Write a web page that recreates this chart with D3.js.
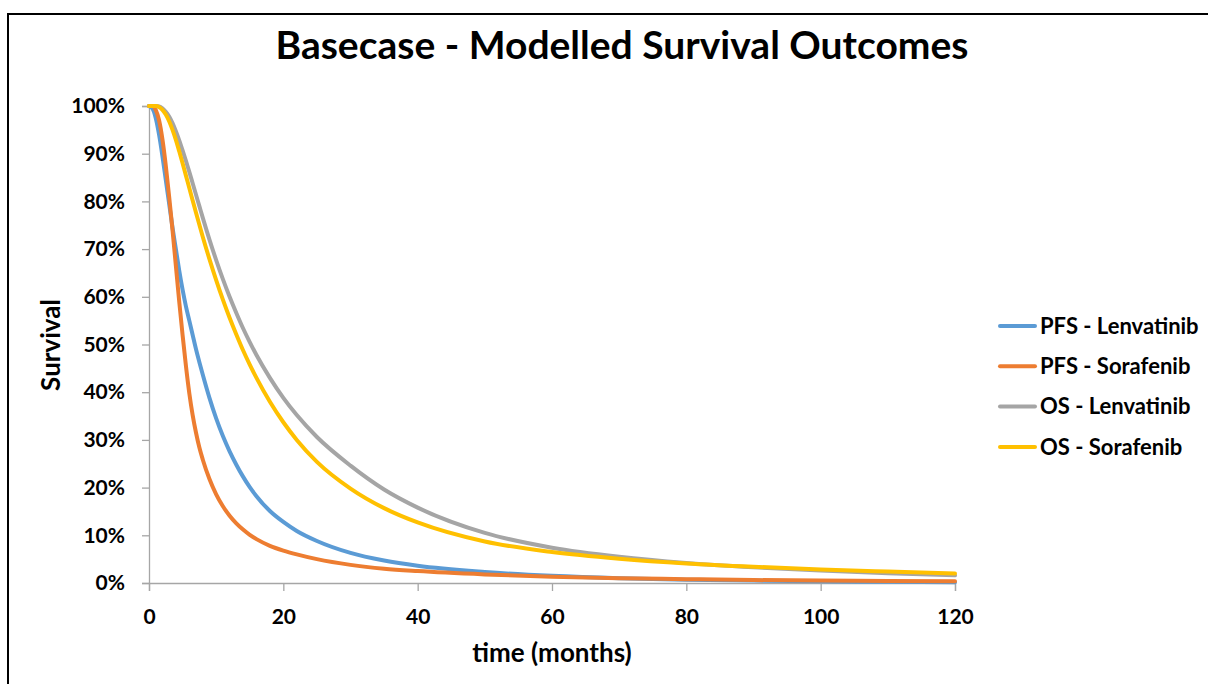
<!DOCTYPE html>
<html>
<head>
<meta charset="utf-8">
<script src="https://cdn.jsdelivr.net/npm/d3@7"></script>
<style>
  html, body { margin: 0; padding: 0; background: #fff; }
  svg { display: block; }
  text { font-family: "Lato", "Open Sans", sans-serif; font-weight: bold; fill: #000; }
</style>
</head>
<body>
<svg id="chart" width="1208" height="684"></svg>
<script>
// Months since start of treatment
const months = [0, 0.5, 1, 1.5, 2, 2.5, 3, 3.5, 4, 4.5, 5, 5.5, 6, 6.5, 7, 7.5, 8, 9, 10, 11, 12, 13, 14, 15, 16, 18, 20, 22, 25, 30, 35, 40, 50, 60, 70, 80, 90, 100, 110, 120];

// Survival proportions (%) for each modelled curve
const pfsLenvatinib = [100, 99.5, 97.5, 94, 89.5, 84.5, 79.5, 74.5, 70, 65.5, 61.5, 58, 55, 52, 49, 46.3, 43.7, 38.8, 34.5, 30.8, 27.6, 24.8, 22.3, 20.1, 18.2, 15.1, 12.8, 10.9, 8.8, 6.3, 4.7, 3.6, 2.3, 1.5, 1.0, 0.7, 0.5, 0.35, 0.25, 0.18];
const pfsSorafenib = [100, 100, 99.2, 97, 93, 87.5, 81, 74, 66.5, 59, 52, 45.5, 39.8, 35.2, 31.5, 28.4, 25.9, 21.8, 18.6, 16.1, 14.1, 12.5, 11.2, 10.1, 9.2, 7.8, 6.8, 6.0, 5.0, 3.8, 3.0, 2.5, 1.8, 1.3, 1.0, 0.8, 0.62, 0.5, 0.42, 0.35];
const osLenvatinib = [100, 100, 100, 99.9, 99.5, 98.8, 97.8, 96.4, 94.7, 92.8, 90.7, 88.5, 86.2, 83.8, 81.4, 79.0, 76.6, 72, 67.7, 63.7, 60, 56.6, 53.4, 50.5, 47.8, 43, 38.8, 35.2, 30.6, 24.6, 19.6, 15.8, 10.5, 7.4, 5.5, 4.2, 3.3, 2.6, 2.05, 1.6];
const osSorafenib = [100, 100, 100, 99.8, 99.2, 98.2, 96.8, 95, 92.9, 90.5, 88, 85.4, 82.8, 80.2, 77.6, 75.1, 72.6, 67.9, 63.5, 59.4, 55.6, 52.1, 48.8, 45.8, 43, 38, 33.7, 30, 25.4, 19.8, 15.7, 12.7, 8.7, 6.5, 5.1, 4.1, 3.4, 2.85, 2.4, 2.0];

const seriesNames = ["PFS - Lenvatinib", "PFS - Sorafenib", "OS - Lenvatinib", "OS - Sorafenib"];
const seriesColors = ["#5B9BD5", "#ED7D31", "#A5A5A5", "#FFC000"];
const xTicks = [0, 20, 40, 60, 80, 100, 120];
const yTicks = [0, 0.1, 0.2, 0.3, 0.4, 0.5, 0.6, 0.7, 0.8, 0.9, 1.0];

const titleText = "Basecase - Modelled Survival Outcomes";
const xTitle = "time (months)";
const yTitle = "Survival";

const allSeries = [pfsLenvatinib, pfsSorafenib, osLenvatinib, osSorafenib].map((vals, i) => ({
  name: seriesNames[i],
  color: seriesColors[i],
  points: months.map((m, j) => ({ t: m, s: vals[j] / 100 }))
}));

const svg = d3.select("#chart");

// chart frame
svg.append("rect")
  .attr("x", 8).attr("y", 14)
  .attr("width", 1240).attr("height", 700)
  .attr("fill", "#fff")
  .attr("stroke", "#000")
  .attr("stroke-width", 2);

const x = d3.scaleLinear().domain([0, 120]).range([149, 955]);
const y = d3.scaleLinear().domain([0, 1]).range([583, 106]);

// title
svg.append("text")
  .attr("x", 622).attr("y", 59)
  .attr("text-anchor", "middle")
  .style("font-size", "39px")
  .text(titleText);

// y axis
const yAxis = svg.append("g")
  .attr("transform", `translate(${x(0)},0)`)
  .call(d3.axisLeft(y).tickValues(yTicks).tickFormat(d3.format(".0%")).tickSize(7).tickPadding(17));
yAxis.select(".domain").attr("stroke", "#A6A6A6").attr("stroke-width", 1.3);
yAxis.selectAll(".tick line").attr("stroke", "#A6A6A6").attr("stroke-width", 1.3);
yAxis.selectAll(".tick text").style("font-size", "21px").style("font-family", "Lato, sans-serif").attr("font-weight", "bold");

// x axis
const xAxis = svg.append("g")
  .attr("transform", `translate(0,${y(0)})`)
  .call(d3.axisBottom(x).tickValues(xTicks).tickSize(8).tickPadding(18));
xAxis.select(".domain").attr("stroke", "#A6A6A6").attr("stroke-width", 1.3);
xAxis.selectAll(".tick line").attr("stroke", "#A6A6A6").attr("stroke-width", 1.3);
xAxis.selectAll(".tick text").style("font-size", "21px").style("font-family", "Lato, sans-serif").attr("font-weight", "bold");

// axis titles
svg.append("text")
  .attr("x", 552).attr("y", 662)
  .attr("text-anchor", "middle")
  .style("font-size", "26px")
  .text(xTitle);

svg.append("text")
  .attr("transform", "translate(60,345) rotate(-90)")
  .attr("text-anchor", "middle")
  .style("font-size", "26px")
  .text(yTitle);

// survival curves
const line = d3.line()
  .x(d => x(d.t))
  .y(d => y(d.s))
  .curve(d3.curveMonotoneX);

svg.append("g")
  .selectAll("path")
  .data(allSeries)
  .join("path")
  .attr("d", d => line(d.points))
  .attr("fill", "none")
  .attr("stroke", d => d.color)
  .attr("stroke-width", 4)
  .attr("stroke-linejoin", "round")
  .attr("stroke-linecap", "round");

// legend
const legend = svg.append("g");
const rows = legend.selectAll("g")
  .data(allSeries)
  .join("g")
  .attr("transform", (d, i) => `translate(1000,${326 + i * 40.3})`);
rows.append("line")
  .attr("x1", 0).attr("x2", 35)
  .attr("stroke", d => d.color)
  .attr("stroke-width", 4)
  .attr("stroke-linecap", "round");
rows.append("text")
  .attr("x", 40).attr("dy", "0.35em")
  .style("font-size", "22px")
  .text(d => d.name);
</script>
</body>
</html>
